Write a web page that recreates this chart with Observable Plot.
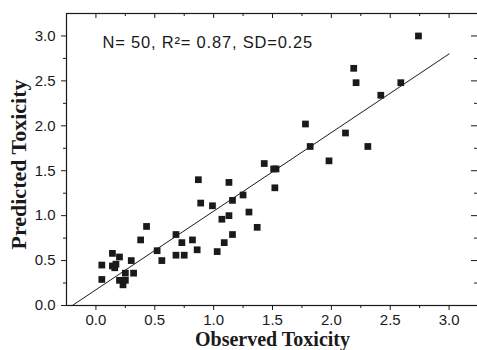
<!DOCTYPE html>
<html><head><meta charset="utf-8">
<script src="https://cdn.jsdelivr.net/npm/d3@7"></script>
<script src="https://cdn.jsdelivr.net/npm/@observablehq/plot@0.6"></script>
<style>
body{margin:0;background:#fff}
#chart svg{display:block}
</style></head><body><div id="chart"></div>
<script>
const observed = [2.74, 2.19, 2.21, 2.59, 2.42, 1.78, 2.12, 1.82, 2.31, 1.98,
  1.43, 1.51, 1.53, 1.52, 0.87, 1.13, 1.25, 0.89, 1.16, 0.99,
  1.30, 1.13, 1.07, 1.37, 0.43, 0.38, 0.68, 1.16, 0.73, 0.82,
  1.09, 0.86, 1.03, 0.52, 0.68, 0.75, 0.56, 0.14, 0.20, 0.30,
  0.05, 0.14, 0.17, 0.16, 0.05, 0.25, 0.32, 0.20, 0.25, 0.23];
const predicted = [3.00, 2.64, 2.48, 2.48, 2.34, 2.02, 1.92, 1.77, 1.77, 1.61,
  1.58, 1.52, 1.52, 1.31, 1.40, 1.37, 1.23, 1.14, 1.17, 1.11,
  1.04, 1.00, 0.96, 0.87, 0.88, 0.73, 0.79, 0.79, 0.70, 0.73,
  0.70, 0.62, 0.60, 0.61, 0.56, 0.56, 0.50, 0.58, 0.54, 0.50,
  0.45, 0.44, 0.46, 0.42, 0.29, 0.36, 0.36, 0.28, 0.28, 0.23];
const fitX = [-0.2, 3.0];
const fitY = [0, 2.8];
const xMajor = [0, 0.5, 1, 1.5, 2, 2.5, 3];
const xMinor = [0.25, 0.75, 1.25, 1.75, 2.25, 2.75];
const yMajor = [0, 0.5, 1, 1.5, 2, 2.5, 3];
const yMinor = [0.25, 0.75, 1.25, 1.75, 2.25, 2.75];
const tickLabels = ["0.0", "0.5", "1.0", "1.5", "2.0", "2.5", "3.0"];
const annotation = ["N= 50, R\u00B2= 0.87, SD=0.25"];
const xTitle = ["Observed Toxicity"];
const yTitle = ["Predicted Toxicity"];

const W = 477, H = 350, mt = 13, mr = -1, mb = 45, ml = 66;
const iw = W - ml - mr, ih = H - mt - mb;
const points = observed.map((x, i) => ({x, y: predicted[i]}));
const fit = fitX.map((x, i) => ({x, y: fitY[i]}));
const ink = "#1a1a1a";
const fmt = d => tickLabels[xMajor.indexOf(d)];
const serif = "'Liberation Serif', 'Times New Roman', serif";

const chart = Plot.plot({
  width: W, height: H,
  marginTop: mt, marginRight: mr, marginBottom: mb, marginLeft: ml,
  style: {fontFamily: "'Liberation Sans', Arial, sans-serif", background: "#fff", color: ink},
  x: {domain: [-0.25, 3.25]},
  y: {domain: [0, 3.25]},
  marks: [
    Plot.frame({stroke: ink, strokeWidth: 1.2}),
    Plot.axisX({anchor: "bottom", ticks: xMajor, tickSize: 5, tickPadding: 4, tickFormat: fmt, fontSize: 15, label: null}),
    Plot.axisX({anchor: "bottom", ticks: xMinor, tickSize: 3, fill: "none", label: null}),
    Plot.axisY({anchor: "left", ticks: yMajor, tickSize: 5, tickPadding: 6, tickFormat: fmt, fontSize: 15, label: null}),
    Plot.axisY({anchor: "left", ticks: yMinor, tickSize: 3, fill: "none", label: null}),
    Plot.tickX(xMajor, {x: d => d, insetBottom: ih - 5, stroke: ink}),
    Plot.tickX(xMinor, {x: d => d, insetBottom: ih - 3, stroke: ink}),
    Plot.tickY(yMajor, {y: d => d, insetLeft: iw - 7, insetRight: 1, stroke: ink}),
    Plot.tickY(yMinor, {y: d => d, insetLeft: iw - 4, insetRight: 1, stroke: ink}),
    Plot.line(fit, {x: "x", y: "y", stroke: ink, strokeWidth: 1}),
    Plot.dot(points, {x: "x", y: "y", symbol: "square", r: 3.8, fill: ink, stroke: null}),
    Plot.text(annotation, {text: d => d, frameAnchor: "top-left", dx: 36, dy: 29.5, textAnchor: "start", lineAnchor: "middle", fontSize: 16.5, fill: ink}),
    Plot.text(xTitle, {text: d => d, frameAnchor: "bottom", dy: 34, textAnchor: "middle", lineAnchor: "middle", fontFamily: serif, fontWeight: "bold", fontSize: 20, fill: ink}),
    Plot.text(yTitle, {text: d => d, frameAnchor: "left", rotate: -90, dx: -48, dy: 5, textAnchor: "middle", lineAnchor: "middle", fontFamily: serif, fontWeight: "bold", fontSize: 22, fill: ink})
  ]
});
d3.select(chart).selectAll("text")
  .filter(function () { return this.textContent === annotation[0]; })
  .style("letter-spacing", "0.8px");
document.getElementById("chart").appendChild(chart);
</script></body></html>
